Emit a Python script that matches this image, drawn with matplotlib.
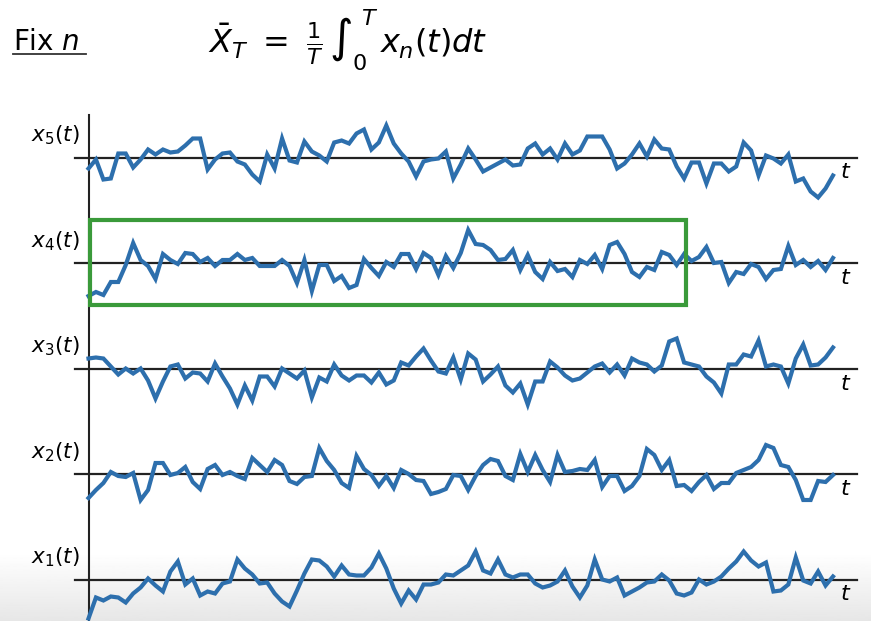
import matplotlib
matplotlib.use("Agg")
import matplotlib.pyplot as plt
from matplotlib.patches import Rectangle
from matplotlib.lines import Line2D
import numpy as np

# sample paths, one value per time step (t = 0..100)
x5 = [-11, -2, -22, -21, 4, 4, -10, -2, 8, 3, 8, 5, 6, 12, 19, 19, -12, -2, 4, 5,
      -4, -7, -17, -24, 3, -11, 19, -3, -5, 16, 6, 2, -4, 15, 17, 14, 24, 28, 8, 15,
      32, 14, 4, -4, -19, -4, -2, -1, 6, -21, -7,
      9, -2, -14, -10, -6, -2, -8, -7, 9, 14, 3, 9, -2, 14, 3, 7, 21, 21, 21, 8,
      -11, -6, 3, 14, 1, 18, 9, 8, -9, -21, -5, -5, -26, -6, -6, -14, -9, 15, 7, -18,
      2, -1, -6, 3, -24, -21, -34, -40, -31, -18]
x4 = [-33, -29, -32, -19, -19, -2, 20, 3, -3, -16, 9, 3, -1, 10, 9, 1, 5, -3, 3, 3,
      9, 3, 5, -3, -3, -3, 3, -3, -20, 3, -28, -2, -2, -18, -13, -25, -22, 4, -5, -13,
      1, -4, 9, 9, -6, 10, 5, -12, 7, -5, 10, 33,
      19, 18, 13, 3, 4, 13, -7, 8, -9, -16, 1, -8, -6, -14, 3, -1, 8, -6, 18, 21,
      9, -9, -14, -4, -7, 11, 8, -2, 9, 2, 6, 16, 0, 1, -20, -9, -11, -1, -4, -16,
      -7, -6, 17, -2, 3, -4, 2, -7, 5]
x3 = [10, 11, 10, 2, -6, 0, -5, 0, -12, -30, -13, 2, 4, -10, -4, -5, -13, 5, -8, -20,
      -36, -17, -32, -8, -8, -18, 0, -5, -10, -2, -29, -9, -13, 4, -7, -12, -7, -7, -14, -4,
      -16, -12, 6, 3, 12, 20, 8, -3, -5, 11, -11, 15,
      9, -13, -6, 2, -17, -24, -15, -36, -13, -13, 7, 1, -7, -12, -10, -4, 2, 5, -4, 4,
      -7, 10, 6, 4, -3, 3, 27, 30, 6, 4, 2, -8, -14, -25, 4, 4, 14, 12, 28, 2,
      4, 2, -15, 10, 24, 3, 4, 11, 21]
x2 = [-24, -16, -9, 2, -2, -3, 1, -26, -16, 11, 11, -1, 1, 7, -8, -15, 5, 9, -1, 2,
      -2, -5, 16, 9, 2, 14, 9, -7, -10, -3, -2, 26, 13, 4, -9, -14, 18, 5, -1, -12,
      -2, -14, 4, 0, -6, -7, -20, -18, -15, -1, -2, -16,
      -2, 9, 15, 13, -2, -6, 20, 2, 19, 4, -8, 19, 2, 3, 5, 4, 14, -13, -2, -2,
      -17, -12, -2, 25, 19, 4, 14, -12, -11, -17, -8, -1, -15, -9, -9, 1, 4, 7, 14, 29,
      26, 9, 7, -6, -26, -26, -7, -8, -1]
x1 = [-39, -18, -21, -17, -18, -23, -14, -8, 1, -6, -12, 8, 18, -5, 1, -16, -12, -14, -4, -2,
      20, 11, 5, -4, -3, -14, -22, -27, -11, 6, 20, 19, 13, 3, 14, 5, 4, 4, 12, 26,
      11, -9, -24, -11, -20, -5, -5, -3, 5, 4, 9, 14,
      28, 9, 6, 20, 5, 2, 5, 5, -4, -8, -6, -2, 9, -7, -18, -6, 20, 0, -2, 2,
      -16, -12, -8, -3, -2, 5, -1, -14, -16, -13, 0, -5, -2, 3, 11, 18, 28, 19, 13, 17,
      -12, -11, -5, 22, -1, -4, 8, -6, 3]

series = [x1, x2, x3, x4, x5]
labels = ["$x_1(t)$", "$x_2(t)$", "$x_3(t)$", "$x_4(t)$", "$x_5(t)$"]
window_end = 80  # T of the highlighted window on x4

plt.rcParams["mathtext.fontset"] = "dejavusans"
plt.rcParams["font.family"] = "DejaVu Sans"

BLUE = "#2d6fad"
GREEN = "#3a9a3a"

fig = plt.figure(figsize=(8.71, 6.21), dpi=100)

# faint grey fade at the bottom edge, like the screen grab
bg = fig.add_axes([0, 0, 1, 0.11], zorder=-1)
fade = np.linspace(1.0, 0.935, 60) ** 1.5
bg.imshow(fade.reshape(-1, 1), cmap="gray", vmin=0, vmax=1,
          aspect="auto", extent=[0, 1, 0, 1])
bg.axis("off")

ax = fig.add_axes([0, 0, 1, 1])
ax.patch.set_alpha(0)
# t = 0 sits at ~88px, t = 100 at ~833px; y in screen-pixel units
px_per_t = (833 - 88.5) / 100
ax.set_xlim(-88.5 / px_per_t, (871 - 88.5) / px_per_t)
ax.set_ylim(0, 621)
ax.axis("off")

t = np.arange(len(x1))
base0, gap = 41.5, 105.5

ax.plot([0, 0], [0, 506], color="#222222", lw=1.5, zorder=2)

for k, (vals, lab) in enumerate(zip(series, labels)):
    off = base0 + k * gap
    ax.plot([-1.8, 103.2], [off, off], color="#222222", lw=1.6, zorder=2)
    ax.plot(t, np.array(vals) + off, color=BLUE, lw=3.0, zorder=3,
            solid_joinstyle="miter")
    ax.text(-4.4, off + 22, lab, fontsize=15.5, ha="center", va="center")
    ax.text(101.7, off - 15, "$t$", fontsize=16, ha="center", va="center")

off4 = base0 + 3 * gap
ax.add_patch(Rectangle((0.2, off4 - 42), window_end, 85, fill=False,
                       edgecolor=GREEN, lw=3.0, zorder=4))

fig.text(13 / 871, 1 - 50 / 621, "Fix $n$", fontsize=20, va="baseline")
fig.add_artist(Line2D([13 / 871, 86 / 871], [1 - 54 / 621, 1 - 54 / 621],
                      color="#333333", lw=1.3))
fig.text(208 / 871, 1 - 40 / 621,
         r"$\bar{X}_T\ =\ \frac{1}{T}\,\int_0^{\,T}\, x_n(t)dt$",
         fontsize=23, va="center", ha="left")

fig.savefig("out.png", dpi=100)
